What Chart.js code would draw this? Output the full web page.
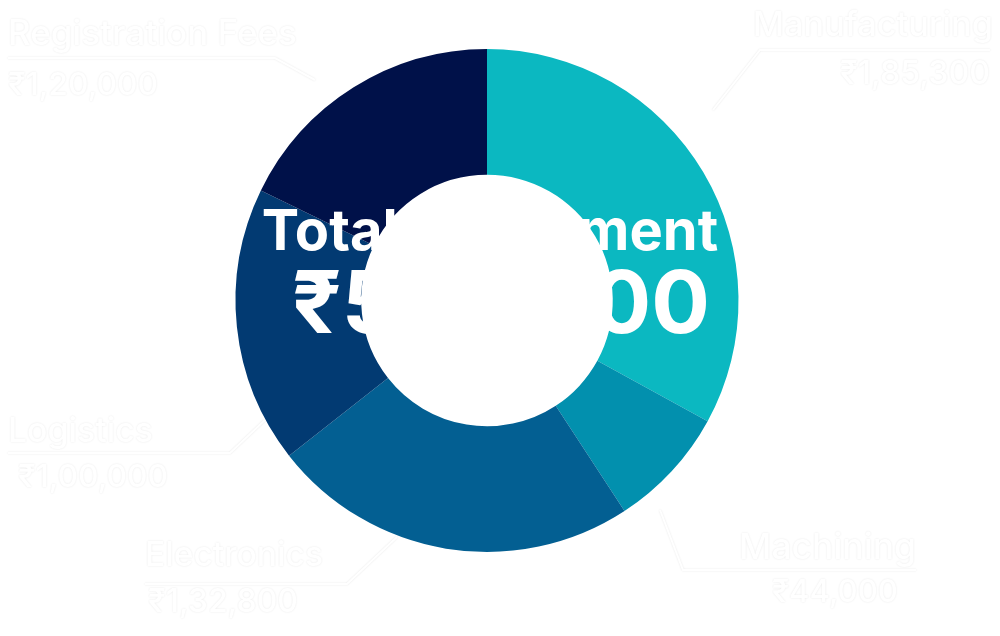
<!DOCTYPE html>
<html><head><meta charset="utf-8">
<script src="https://cdn.jsdelivr.net/npm/chart.js@4/dist/chart.umd.min.js"></script>
<style>html,body{margin:0;padding:0;background:#fff}#wrap{width:1000px;height:636px}</style>
</head><body><div id="wrap"><canvas id="c" width="1000" height="636"></canvas></div>
<script>
const categories = ["Manufacturing", "Machining", "Electronics", "Logistics", "Registration Fees"];
// slice sizes as read from the drawn arcs
const values = [185300, 44000, 132800, 100000, 100000];
const valueLabels = ["₹1,85,300", "₹44,000", "₹1,32,800", "₹1,00,000", "₹1,20,000"];
const colors = ["#0bb8c1", "#0290ae", "#035f92", "#023a72", "#001149"];
const centerTitle = "Total Investment";
const centerValue = "₹5,82,100";

// label layout (annotation positions only)
const labelPos = [
  {x: 993, ny: 36, vy: 84, align: "right", ux1: 760, ux2: 990, uy: 50, w: 240, vw: 150, vx: 990, lx: 713, ly: 110},
  {x: 916, ny: 559, vy: 602, align: "right", ux1: 683, ux2: 916, uy: 570, w: 177, vw: 126, vx: 898, lx: 660, ly: 510},
  {x: 145, ny: 566, vy: 612, align: "left", ux1: 145, ux2: 347, uy: 584, w: 178, vw: 150, vx: 148, lx: 397, ly: 537},
  {x: 8, ny: 442, vy: 487, align: "left", ux1: 8, ux2: 230, uy: 453, w: 145, vw: 150, vx: 18, lx: 265, ly: 420},
  {x: 8, ny: 45, vy: 95, align: "left", ux1: 8, ux2: 275, uy: 58, w: 289, vw: 150, vx: 8, lx: 315, ly: 80}
];

function fitFont(ctx, text, weight, width, family) {
  let size = 40;
  ctx.font = weight + " " + size + "px " + family;
  const m = ctx.measureText(text).width;
  size = size * width / m;
  return weight + " " + size.toFixed(1) + "px " + family;
}

const overlay = {
  id: "overlay",
  afterDraw(chart) {
    const ctx = chart.ctx;
    const fam = "Inter, 'Open Sans', sans-serif";
    ctx.save();
    categories.forEach((name, i) => {
      const p = labelPos[i];
      ctx.shadowColor = "rgba(0,0,0,0.10)";
      ctx.shadowBlur = 2;
      ctx.strokeStyle = "#ffffff";
      ctx.lineWidth = 2;
      ctx.beginPath();
      const near = p.align === "right" ? p.ux1 : p.ux2;
      ctx.moveTo(p.align === "right" ? p.ux2 : p.ux1, p.uy);
      ctx.lineTo(near, p.uy);
      ctx.lineTo(p.lx, p.ly);
      ctx.stroke();
      ctx.fillStyle = "#ffffff";
      ctx.textAlign = p.align;
      ctx.textBaseline = "alphabetic";
      ctx.font = fitFont(ctx, name, "500", p.w, fam);
      ctx.fillText(name, p.x, p.ny);
      ctx.font = fitFont(ctx, valueLabels[i], "500", p.vw, fam);
      ctx.fillText(valueLabels[i], p.vx, p.vy);
    });
    ctx.shadowColor = "transparent";
    ctx.shadowBlur = 0;
    ctx.fillStyle = "#ffffff";
    ctx.textAlign = "center";
    ctx.font = fitFont(ctx, centerTitle, "700", 456, fam);
    ctx.fillText(centerTitle, 490, 250);
    ctx.font = fitFont(ctx, centerValue, "700", 418, fam);
    ctx.fillText(centerValue, 501, 333);
    ctx.restore();
  }
};

new Chart(document.getElementById("c"), {
  type: "doughnut",
  data: {
    labels: categories,
    datasets: [{ data: values, backgroundColor: colors, borderWidth: 0 }]
  },
  options: {
    responsive: false,
    animation: false,
    cutout: "50%",
    layout: { padding: { left: 235, right: 261, top: 49, bottom: 84 } },
    plugins: { legend: { display: false }, tooltip: { enabled: false } }
  },
  plugins: [overlay]
});
</script></body></html>
